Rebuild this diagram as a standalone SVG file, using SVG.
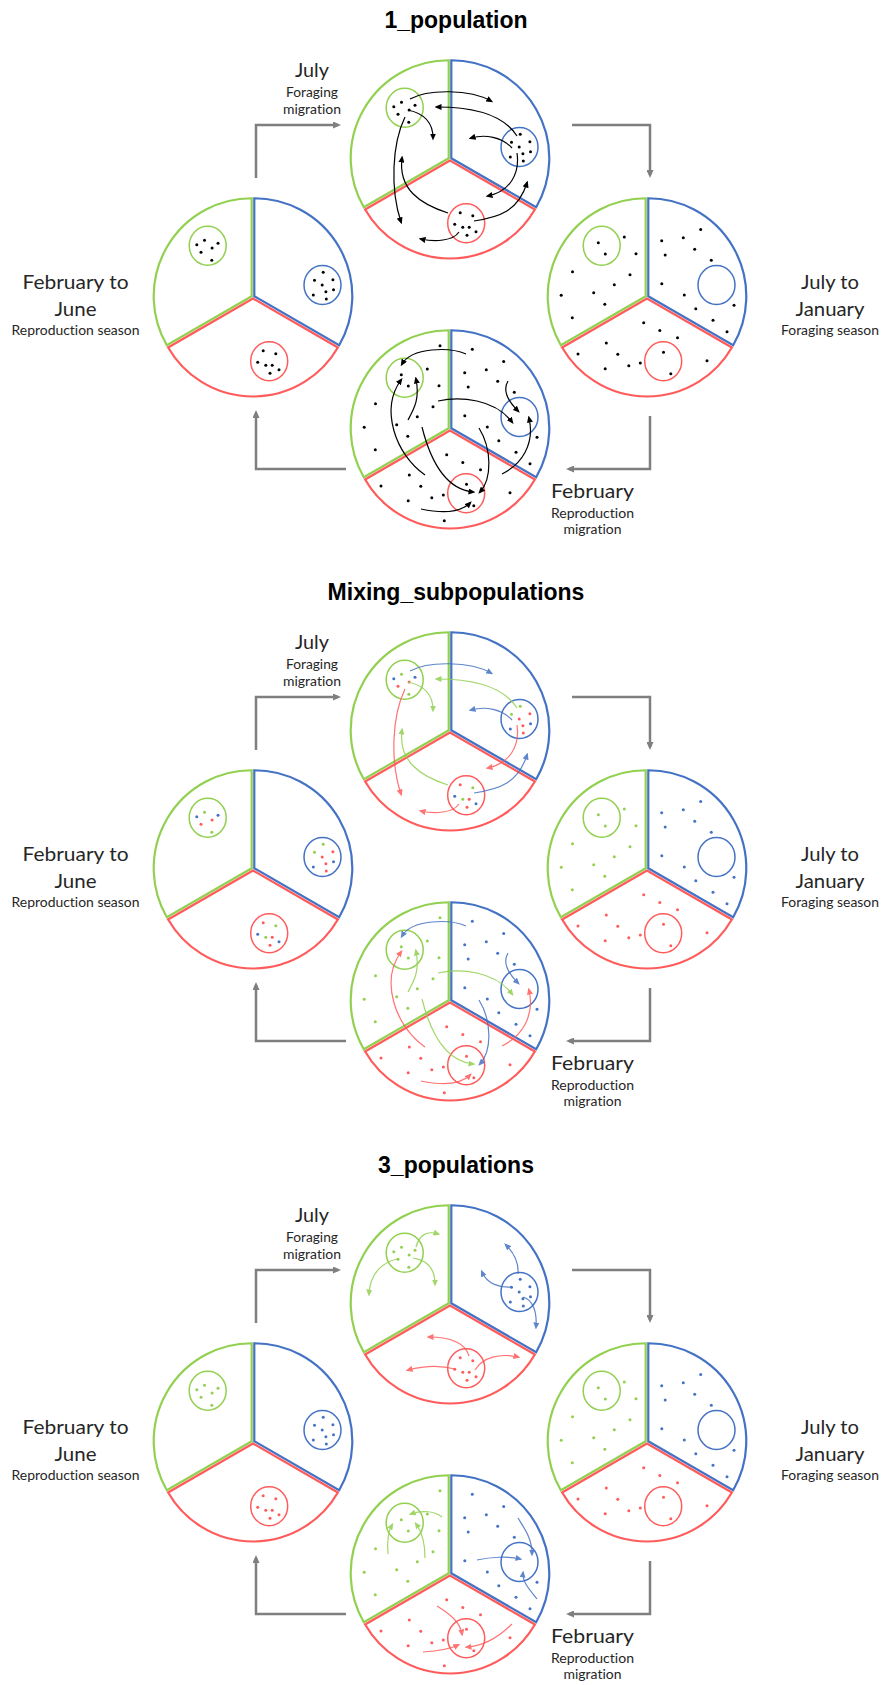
<svg xmlns="http://www.w3.org/2000/svg" xmlns:xlink="http://www.w3.org/1999/xlink" width="881" height="1685" viewBox="0 0 881 1685">
<style>
text{font-variant-ligatures:none}
.title{font-family:"Liberation Sans",Arial,sans-serif;font-weight:bold;font-size:23px;text-anchor:middle;fill:#000}
.lb{font-family:Lato,"Liberation Sans",sans-serif;font-size:20px;text-anchor:middle;fill:#262626}
.ls{font-family:Lato,"Liberation Sans",sans-serif;font-size:13.5px;text-anchor:middle;fill:#262626}
.arr{fill:none;stroke-width:1.2}
.ak{stroke:#000;marker-end:url(#mK)}
.ag{stroke:#92D050;marker-end:url(#mG)}
.ab{stroke:#4472C4;marker-end:url(#mB)}
.ar{stroke:#FF5B5B;marker-end:url(#mR)}
.g{fill:#92D050}.b{fill:#4472C4}.r{fill:#FF5B5B}
.conn{fill:none;stroke:#7F7F7F;stroke-width:2.5;marker-end:url(#mGray)}
</style>
<defs>
<marker id="mK" viewBox="0 0 7 6" refX="4.5" refY="3" markerWidth="7" markerHeight="6" markerUnits="userSpaceOnUse" orient="auto"><path d="M0,0 L7,3 L0,6 Z" fill="#000"/></marker>
<marker id="mG" viewBox="0 0 7 6" refX="4.5" refY="3" markerWidth="7" markerHeight="6" markerUnits="userSpaceOnUse" orient="auto"><path d="M0,0 L7,3 L0,6 Z" fill="#92D050"/></marker>
<marker id="mB" viewBox="0 0 7 6" refX="4.5" refY="3" markerWidth="7" markerHeight="6" markerUnits="userSpaceOnUse" orient="auto"><path d="M0,0 L7,3 L0,6 Z" fill="#4472C4"/></marker>
<marker id="mR" viewBox="0 0 7 6" refX="4.5" refY="3" markerWidth="7" markerHeight="6" markerUnits="userSpaceOnUse" orient="auto"><path d="M0,0 L7,3 L0,6 Z" fill="#FF5B5B"/></marker>
<marker id="mGray" viewBox="0 0 8 7" refX="5" refY="3.5" markerWidth="8" markerHeight="7" markerUnits="userSpaceOnUse" orient="auto"><path d="M0,0 L8,3.5 L0,7 Z" fill="#7F7F7F"/></marker>
<g id="pie" fill="none">
<path d="M-1.3,-0.75 L-1.3,-98.75 A98,98 0 0 0 -86.17,48.25 Z" stroke="#92D050" stroke-width="2.2"/>
<path d="M1.3,-0.75 L1.3,-98.75 A98,98 0 0 1 86.17,48.25 Z" stroke="#4472C4" stroke-width="2.2"/>
<path d="M0,1.5 L-84.87,50.5 A98,98 0 0 0 84.87,50.5 Z" stroke="#FF5B5B" stroke-width="2.2"/>
<ellipse cx="-45.3" cy="-51.2" rx="18.5" ry="19.5" stroke="#92D050" stroke-width="1.5"/>
<ellipse cx="69.5" cy="-12" rx="18.5" ry="19.5" stroke="#4472C4" stroke-width="1.5"/>
<ellipse cx="16.2" cy="64.2" rx="18.5" ry="19.5" stroke="#FF5B5B" stroke-width="1.5"/>
</g>
<g id="cG"><circle cx="-56.2" cy="-52.2" r="1.5"/><circle cx="-48.5" cy="-56.7" r="1.5"/><circle cx="-35" cy="-53.8" r="1.5"/><circle cx="-52" cy="-44.7" r="1.5"/><circle cx="-40.9" cy="-49" r="1.5"/><circle cx="-41.2" cy="-36.8" r="1.5"/></g>
<g id="cB"><circle cx="70.2" cy="-24.8" r="1.5"/><circle cx="61.5" cy="-16.7" r="1.5"/><circle cx="79.9" cy="-17.2" r="1.5"/><circle cx="69.2" cy="-11.9" r="1.5"/><circle cx="80.5" cy="-7.2" r="1.5"/><circle cx="72.9" cy="-5.2" r="1.5"/><circle cx="60.3" cy="-1.9" r="1.5"/><circle cx="73.3" cy="2" r="1.5"/></g>
<g id="cR"><circle cx="10.2" cy="53.8" r="1.5"/><circle cx="22.8" cy="56.7" r="1.5"/><circle cx="4.7" cy="65.3" r="1.5"/><circle cx="12.8" cy="68.2" r="1.5"/><circle cx="19.2" cy="68.3" r="1.5"/><circle cx="26" cy="72.8" r="1.5"/><circle cx="17" cy="76.3" r="1.5"/></g>
<g id="dG"><circle cx="-48.7" cy="-54.3" r="1.5"/><circle cx="-41.7" cy="-43" r="1.5"/><circle cx="-22.7" cy="-60" r="1.5"/><circle cx="-11" cy="-43.2" r="1.5"/><circle cx="-74.5" cy="-25.3" r="1.5"/><circle cx="-17" cy="-22.2" r="1.5"/><circle cx="-32.7" cy="-12.2" r="1.5"/><circle cx="-85.8" cy="-1.7" r="1.5"/><circle cx="-53.3" cy="-4.3" r="1.5"/><circle cx="-42.2" cy="7.2" r="1.5"/><circle cx="-74.7" cy="20.8" r="1.5"/></g>
<g id="dB"><circle cx="53.7" cy="-67.5" r="1.5"/><circle cx="14.7" cy="-56.3" r="1.5"/><circle cx="36.3" cy="-59.3" r="1.5"/><circle cx="47.7" cy="-47.8" r="1.5"/><circle cx="18.2" cy="-42" r="1.5"/><circle cx="64.3" cy="-36.8" r="1.5"/><circle cx="14.8" cy="-13.2" r="1.5"/><circle cx="37.3" cy="-2" r="1.5"/><circle cx="87" cy="8.3" r="1.5"/><circle cx="48.8" cy="11.7" r="1.5"/><circle cx="66" cy="23.3" r="1.5"/><circle cx="80" cy="34.8" r="1.5"/></g>
<g id="dR"><circle cx="-3.3" cy="25.7" r="1.5"/><circle cx="12.8" cy="33.5" r="1.5"/><circle cx="30.5" cy="40.7" r="1.5"/><circle cx="-40.7" cy="46" r="1.5"/><circle cx="-69" cy="57" r="1.5"/><circle cx="-29.2" cy="57.3" r="1.5"/><circle cx="16.5" cy="55.3" r="1.5"/><circle cx="-6.7" cy="66" r="1.5"/><circle cx="-18.2" cy="68.8" r="1.5"/><circle cx="-41.8" cy="71.8" r="1.5"/><circle cx="23.8" cy="76.7" r="1.5"/><circle cx="60" cy="63.8" r="1.5"/></g>
</defs>
<rect width="881" height="1685" fill="#fff"/>

<!-- ============ Section 1 ============ -->
<g id="s1-labels">
<text class="title" x="456" y="28">1_population</text>
<text class="lb" x="312" y="77" textLength="34" lengthAdjust="spacingAndGlyphs">July</text>
<text class="ls" x="312" y="97" textLength="52" lengthAdjust="spacingAndGlyphs">Foraging</text>
<text class="ls" x="312" y="114" textLength="58" lengthAdjust="spacingAndGlyphs">migration</text>
<text class="lb" x="75.5" y="289" textLength="106" lengthAdjust="spacingAndGlyphs">February to</text>
<text class="lb" x="75.5" y="316" textLength="42" lengthAdjust="spacingAndGlyphs">June</text>
<text class="ls" x="75.5" y="335" textLength="128" lengthAdjust="spacingAndGlyphs">Reproduction season</text>
<text class="lb" x="830" y="289" textLength="58" lengthAdjust="spacingAndGlyphs">July to</text>
<text class="lb" x="830" y="316" textLength="69" lengthAdjust="spacingAndGlyphs">January</text>
<text class="ls" x="830" y="335" textLength="98" lengthAdjust="spacingAndGlyphs">Foraging season</text>
<text class="lb" x="592.5" y="498" textLength="83" lengthAdjust="spacingAndGlyphs">February</text>
<text class="ls" x="592.5" y="518" textLength="83" lengthAdjust="spacingAndGlyphs">Reproduction</text>
<text class="ls" x="592.5" y="534" textLength="58" lengthAdjust="spacingAndGlyphs">migration</text>
</g>
<g id="s1-left" transform="translate(253,297)">
<use href="#pie"/><use href="#cG" fill="#000"/><use href="#cB" fill="#000"/><use href="#cR" fill="#000"/>
</g>
<g id="s1-top" transform="translate(450,159)">
<use href="#pie"/><use href="#cG" fill="#000"/><use href="#cB" fill="#000"/><use href="#cR" fill="#000"/>
<g class="arr">
<path class="ak" d="M-40,-60 C-22,-70 20,-70 41,-58"/>
<path class="ak" d="M67,-23 C55,-42 30,-52 -13,-52"/>
<path class="ak" d="M-42,-49 C-28,-46 -17,-38 -17,-21"/>
<path class="ak" d="M-45,-42 C-58,-15 -60,30 -49,63"/>
<path class="ak" d="M-2,54 C-30,45 -52,30 -48,-1"/>
<path class="ak" d="M24,62 C50,58 68,52 77,24"/>
<path class="ak" d="M67,-6 C70,15 60,32 38,37"/>
<path class="ak" d="M9,73 C3,82 -15,83 -29,80"/>
<path class="ak" d="M62,-11 C52,-22 35,-25 21,-21"/>
</g>
</g>
<g id="s1-right" transform="translate(647,297)">
<use href="#pie"/><use href="#dG" fill="#000"/><use href="#dB" fill="#000"/><use href="#dR" fill="#000"/>
</g>
<g id="s1-bottom" transform="translate(450,429)">
<use href="#pie"/><use href="#dG" fill="#000"/><use href="#dB" fill="#000"/><use href="#dR" fill="#000"/>
<circle cx="-10" cy="-83.3" r="1.5"/><circle cx="22.3" cy="-79.7" r="1.5"/><circle cx="-5.7" cy="91.7" r="1.5"/>
<g class="arr">
<path class="ak" d="M16,-75 C0,-82 -38,-82 -48,-65"/>
<path class="ak" d="M-42,-9 C-36,-20 -30,-30 -34,-50"/>
<path class="ak" d="M-25,46 C-55,25 -70,-20 -49,-49"/>
<path class="ak" d="M-12,-28 C10,-33 45,-30 62,-7"/>
<path class="ak" d="M58,-48 C52,-38 58,-28 68,-18"/>
<path class="ak" d="M52,45 C72,35 85,15 79,-11"/>
<path class="ak" d="M-28,-2 C-20,30 -5,60 23,63"/>
<path class="ak" d="M29,-1 C42,20 42,50 30,63"/>
<path class="ak" d="M-29,80 C-10,84 10,84 20,74"/>
</g>
</g>

<!-- ============ Section 2 ============ -->
<g id="s2-labels" transform="translate(0,572)">
<text class="title" x="456" y="28">Mixing_subpopulations</text>
<text class="lb" x="312" y="77" textLength="34" lengthAdjust="spacingAndGlyphs">July</text>
<text class="ls" x="312" y="97" textLength="52" lengthAdjust="spacingAndGlyphs">Foraging</text>
<text class="ls" x="312" y="114" textLength="58" lengthAdjust="spacingAndGlyphs">migration</text>
<text class="lb" x="75.5" y="289" textLength="106" lengthAdjust="spacingAndGlyphs">February to</text>
<text class="lb" x="75.5" y="316" textLength="42" lengthAdjust="spacingAndGlyphs">June</text>
<text class="ls" x="75.5" y="335" textLength="128" lengthAdjust="spacingAndGlyphs">Reproduction season</text>
<text class="lb" x="830" y="289" textLength="58" lengthAdjust="spacingAndGlyphs">July to</text>
<text class="lb" x="830" y="316" textLength="69" lengthAdjust="spacingAndGlyphs">January</text>
<text class="ls" x="830" y="335" textLength="98" lengthAdjust="spacingAndGlyphs">Foraging season</text>
<text class="lb" x="592.5" y="498" textLength="83" lengthAdjust="spacingAndGlyphs">February</text>
<text class="ls" x="592.5" y="518" textLength="83" lengthAdjust="spacingAndGlyphs">Reproduction</text>
<text class="ls" x="592.5" y="534" textLength="58" lengthAdjust="spacingAndGlyphs">migration</text>
</g>
<g id="s2-left" transform="translate(253,869)">
<use href="#pie"/>
<circle class="b" cx="-56.2" cy="-52.2" r="1.5"/><circle class="g" cx="-48.5" cy="-56.7" r="1.5"/><circle class="b" cx="-35" cy="-53.8" r="1.5"/><circle class="r" cx="-52" cy="-44.7" r="1.5"/><circle class="r" cx="-40.9" cy="-49" r="1.5"/><circle class="g" cx="-41.2" cy="-36.8" r="1.5"/>
<circle class="g" cx="70.2" cy="-24.8" r="1.5"/><circle class="g" cx="61.5" cy="-16.7" r="1.5"/><circle class="r" cx="79.9" cy="-17.2" r="1.5"/><circle class="r" cx="69.2" cy="-11.9" r="1.5"/><circle class="b" cx="80.5" cy="-7.2" r="1.5"/><circle class="r" cx="72.9" cy="-5.2" r="1.5"/><circle class="b" cx="60.3" cy="-1.9" r="1.5"/><circle class="r" cx="73.3" cy="2" r="1.5"/>
<circle class="r" cx="10.2" cy="53.8" r="1.5"/><circle class="g" cx="22.8" cy="56.7" r="1.5"/><circle class="b" cx="4.7" cy="65.3" r="1.5"/><circle class="g" cx="12.8" cy="68.2" r="1.5"/><circle class="r" cx="19.2" cy="68.3" r="1.5"/><circle class="b" cx="26" cy="72.8" r="1.5"/><circle class="r" cx="17" cy="76.3" r="1.5"/>
</g>
<g id="s2-top" transform="translate(450,731)">
<use href="#pie"/>
<circle class="b" cx="-56.2" cy="-52.2" r="1.5"/><circle class="g" cx="-48.5" cy="-56.7" r="1.5"/><circle class="b" cx="-35" cy="-53.8" r="1.5"/><circle class="r" cx="-52" cy="-44.7" r="1.5"/><circle class="r" cx="-40.9" cy="-49" r="1.5"/><circle class="g" cx="-41.2" cy="-36.8" r="1.5"/>
<circle class="g" cx="70.2" cy="-24.8" r="1.5"/><circle class="g" cx="61.5" cy="-16.7" r="1.5"/><circle class="r" cx="79.9" cy="-17.2" r="1.5"/><circle class="r" cx="69.2" cy="-11.9" r="1.5"/><circle class="b" cx="80.5" cy="-7.2" r="1.5"/><circle class="r" cx="72.9" cy="-5.2" r="1.5"/><circle class="b" cx="60.3" cy="-1.9" r="1.5"/><circle class="r" cx="73.3" cy="2" r="1.5"/>
<circle class="r" cx="10.2" cy="53.8" r="1.5"/><circle class="g" cx="22.8" cy="56.7" r="1.5"/><circle class="b" cx="4.7" cy="65.3" r="1.5"/><circle class="g" cx="12.8" cy="68.2" r="1.5"/><circle class="r" cx="19.2" cy="68.3" r="1.5"/><circle class="b" cx="26" cy="72.8" r="1.5"/><circle class="r" cx="17" cy="76.3" r="1.5"/>
<g class="arr" opacity="0.85">
<path class="ab" d="M-40,-60 C-22,-70 20,-70 41,-58"/>
<path class="ag" d="M67,-23 C55,-42 30,-52 -13,-52"/>
<path class="ag" d="M-42,-49 C-28,-46 -17,-38 -17,-21"/>
<path class="ar" d="M-45,-42 C-58,-15 -60,30 -49,63"/>
<path class="ag" d="M-2,54 C-30,45 -52,30 -48,-1"/>
<path class="ab" d="M24,62 C50,58 68,52 77,24"/>
<path class="ar" d="M67,-6 C70,15 60,32 38,37"/>
<path class="ar" d="M9,73 C3,82 -15,83 -29,80"/>
<path class="ab" d="M62,-11 C52,-22 35,-25 21,-21"/>
</g>
</g>
<g id="s2-right" transform="translate(647,869)">
<use href="#pie"/><use href="#dG" fill="#92D050"/><use href="#dB" fill="#4472C4"/><use href="#dR" fill="#FF5B5B"/>
</g>
<g id="s2-bottom" transform="translate(450,1001)">
<use href="#pie"/><use href="#dG" fill="#92D050"/><use href="#dB" fill="#4472C4"/><use href="#dR" fill="#FF5B5B"/>
<circle class="g" cx="-10" cy="-83.3" r="1.5"/><circle class="b" cx="22.3" cy="-79.7" r="1.5"/><circle class="r" cx="-5.7" cy="91.7" r="1.5"/>
<g class="arr" opacity="0.85">
<path class="ab" d="M16,-75 C0,-82 -38,-82 -48,-65"/>
<path class="ag" d="M-42,-9 C-36,-20 -30,-30 -34,-50"/>
<path class="ar" d="M-25,46 C-55,25 -70,-20 -49,-49"/>
<path class="ag" d="M-12,-28 C10,-33 45,-30 62,-7"/>
<path class="ab" d="M58,-48 C52,-38 58,-28 68,-18"/>
<path class="ar" d="M52,45 C72,35 85,15 79,-11"/>
<path class="ag" d="M-28,-2 C-20,30 -5,60 23,63"/>
<path class="ab" d="M29,-1 C42,20 42,50 30,63"/>
<path class="ar" d="M-29,80 C-10,84 10,84 20,74"/>
</g>
</g>

<!-- ============ Section 3 ============ -->
<g id="s3-labels" transform="translate(0,1145)">
<text class="title" x="456" y="28">3_populations</text>
<text class="lb" x="312" y="77" textLength="34" lengthAdjust="spacingAndGlyphs">July</text>
<text class="ls" x="312" y="97" textLength="52" lengthAdjust="spacingAndGlyphs">Foraging</text>
<text class="ls" x="312" y="114" textLength="58" lengthAdjust="spacingAndGlyphs">migration</text>
<text class="lb" x="75.5" y="289" textLength="106" lengthAdjust="spacingAndGlyphs">February to</text>
<text class="lb" x="75.5" y="316" textLength="42" lengthAdjust="spacingAndGlyphs">June</text>
<text class="ls" x="75.5" y="335" textLength="128" lengthAdjust="spacingAndGlyphs">Reproduction season</text>
<text class="lb" x="830" y="289" textLength="58" lengthAdjust="spacingAndGlyphs">July to</text>
<text class="lb" x="830" y="316" textLength="69" lengthAdjust="spacingAndGlyphs">January</text>
<text class="ls" x="830" y="335" textLength="98" lengthAdjust="spacingAndGlyphs">Foraging season</text>
<text class="lb" x="592.5" y="498" textLength="83" lengthAdjust="spacingAndGlyphs">February</text>
<text class="ls" x="592.5" y="518" textLength="83" lengthAdjust="spacingAndGlyphs">Reproduction</text>
<text class="ls" x="592.5" y="534" textLength="58" lengthAdjust="spacingAndGlyphs">migration</text>
</g>
<g id="s3-left" transform="translate(253,1442)">
<use href="#pie"/><use href="#cG" fill="#92D050"/><use href="#cB" fill="#4472C4"/><use href="#cR" fill="#FF5B5B"/>
</g>
<g id="s3-top" transform="translate(450,1304)">
<use href="#pie"/><use href="#cG" fill="#92D050"/><use href="#cB" fill="#4472C4"/><use href="#cR" fill="#FF5B5B"/>
<g class="arr" opacity="0.85">
<path class="ag" d="M-34,-57 C-31,-68 -24,-74 -12,-70"/>
<path class="ag" d="M-53,-45 C-66,-42 -80,-32 -81,-10"/>
<path class="ag" d="M-37,-46 C-24,-44 -15,-36 -15,-20"/>
<path class="ab" d="M68,-30 C69,-42 63,-52 56,-59"/>
<path class="ab" d="M62,-17 C50,-16 37,-20 32,-32"/>
<path class="ab" d="M73,-7 C84,-4 87,10 86,23"/>
<path class="ar" d="M19,52 C16,40 2,33 -21,33"/>
<path class="ar" d="M5,65 C-10,61 -27,62 -42,66"/>
<path class="ar" d="M25,66 C33,53 50,49 68,53"/>
</g>
</g>
<g id="s3-right" transform="translate(647,1442)">
<use href="#pie"/><use href="#dG" fill="#92D050"/><use href="#dB" fill="#4472C4"/><use href="#dR" fill="#FF5B5B"/>
</g>
<g id="s3-bottom" transform="translate(450,1574)">
<use href="#pie"/><use href="#dG" fill="#92D050"/><use href="#dB" fill="#4472C4"/><use href="#dR" fill="#FF5B5B"/>
<circle class="g" cx="-10" cy="-83.3" r="1.5"/><circle class="b" cx="22.3" cy="-79.7" r="1.5"/><circle class="r" cx="-5.7" cy="91.7" r="1.5"/>
<g class="arr" opacity="0.85">
<path class="ag" d="M-8,-57 C-15,-63 -28,-64 -39,-60"/>
<path class="ag" d="M-62,-20 C-63,-32 -62,-42 -58,-49"/>
<path class="ag" d="M-25,-16 C-25,-30 -28,-42 -34,-50"/>
<path class="ab" d="M68,-56 C74,-46 82,-36 82,-20"/>
<path class="ab" d="M27,-14 C40,-17 58,-18 70,-15"/>
<path class="ab" d="M87,25 C80,16 72,8 73,-1"/>
<path class="ar" d="M-13,32 C0,40 10,48 12,60"/>
<path class="ar" d="M-27,78 C-10,77 0,75 8,71"/>
<path class="ar" d="M62,50 C50,62 35,72 17,73"/>
</g>
</g>

<!-- ============ Connectors ============ -->
<g id="connectors">
<path class="conn" d="M256,178 V125 H338"/>
<path class="conn" d="M572,125 H650 V175"/>
<path class="conn" d="M650,416 V469 H569"/>
<path class="conn" d="M346,469 H256 V413"/>
<path class="conn" d="M256,750 V697 H338"/>
<path class="conn" d="M572,697 H650 V747"/>
<path class="conn" d="M650,988 V1041 H569"/>
<path class="conn" d="M346,1041 H256 V985"/>
<path class="conn" d="M256,1323 V1270 H338"/>
<path class="conn" d="M572,1270 H650 V1320"/>
<path class="conn" d="M650,1561 V1614 H569"/>
<path class="conn" d="M346,1614 H256 V1558"/>
</g>
</svg>
